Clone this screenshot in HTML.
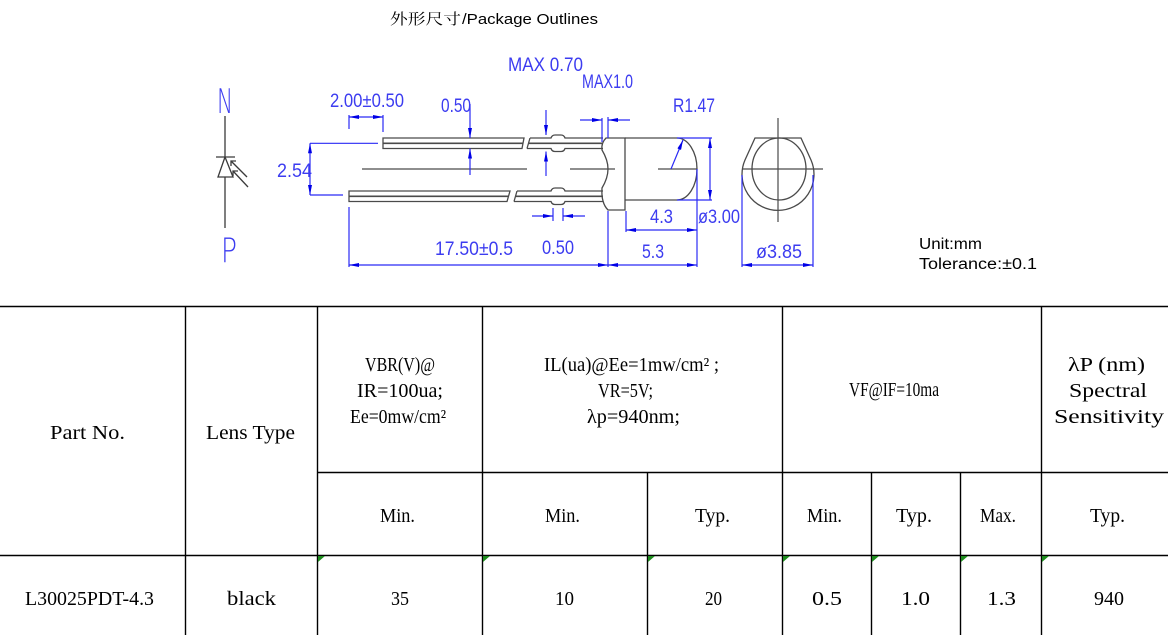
<!DOCTYPE html>
<html>
<head>
<meta charset="utf-8">
<style>
html,body{margin:0;padding:0;background:#fff;}
body{width:1168px;height:635px;overflow:hidden;}
svg{display:block;}
.cad{font-family:"Liberation Sans",sans-serif;fill:#3c3cf0;}
.np{font-family:"DejaVu Sans","Liberation Sans",sans-serif;font-weight:200;fill:#3c3cf0;}
.tb{font-family:"Liberation Serif","Noto Serif CJK SC",serif;fill:#000;font-size:20px;}
.dim{stroke:#2a2af5;stroke-width:1.2;fill:none;}
.part{stroke:#4a4a4a;stroke-width:1.3;fill:none;}
.cl{stroke:#4a4a4a;stroke-width:1.2;fill:none;}
.grid{stroke:#000;stroke-width:1.4;}
</style>
</head>
<body>
<svg width="1168" height="635" viewBox="0 0 1168 635" xmlns="http://www.w3.org/2000/svg">
<defs>
<marker id="ah" viewBox="0 0 10 4" refX="10" refY="2" markerWidth="10" markerHeight="4" markerUnits="userSpaceOnUse" orient="auto-start-reverse">
<path d="M0,0 L10,2 L0,4 z" fill="#0000e6"/>
</marker>
</defs>

<!-- Title -->
<text x="390" y="24" font-family="'Noto Serif CJK SC','Noto Sans CJK SC',serif" font-size="15" fill="#000" textLength="71" lengthAdjust="spacingAndGlyphs">外形尺寸</text>
<text x="462" y="24" font-family="'Liberation Sans',sans-serif" font-size="15" fill="#000" textLength="136" lengthAdjust="spacingAndGlyphs">/Package Outlines</text>

<!-- Diode symbol -->
<text class="np" x="217" y="113" font-size="34" textLength="16" lengthAdjust="spacingAndGlyphs">N</text>
<text class="np" x="221" y="262" font-size="34" textLength="16" lengthAdjust="spacingAndGlyphs">P</text>
<g stroke="#3a3a3a" stroke-width="1.3" fill="none">
<line x1="225" y1="116" x2="225" y2="157"/>
<line x1="225" y1="177" x2="225" y2="228"/>
<line x1="216" y1="157" x2="235" y2="157"/>
<polygon points="225,157 218,177 233,177"/>
<line x1="247" y1="177" x2="231" y2="161"/>
<polyline points="231,166 231,161 236,161"/>
<line x1="248" y1="187" x2="233" y2="171"/>
<polyline points="233,176 233,171 238,171"/>
</g>

<!-- Centerlines -->
<g class="cl">
<line x1="362" y1="169" x2="527" y2="169"/>
<line x1="570" y1="169" x2="615" y2="169"/>
<line x1="658" y1="169" x2="697" y2="169"/>
<line x1="742" y1="169" x2="823" y2="169"/>
<line x1="778" y1="118" x2="778" y2="222"/>
</g>

<!-- Leads -->
<g class="part">
<path d="M383,138 L524,138 L522,148.5 L383,148.5 Z"/>
<line x1="383" y1="143.3" x2="523" y2="143.3" stroke-width="1.6"/>
<path d="M530,138 L551,138 Q552,135 555,135 L561,135 Q564,135 565,138 L603,138"/>
<path d="M527,148.5 L551,148.5 Q552,151.5 555,151.5 L561,151.5 Q564,151.5 565,148.5 L603,148.5"/>
<line x1="530" y1="138" x2="527" y2="148.5"/>
<line x1="528.5" y1="143.3" x2="603" y2="143.3" stroke-width="1.6"/>
<path d="M349,191 L510,191 L507,201.5 L349,201.5 Z"/>
<line x1="349" y1="196.3" x2="508.5" y2="196.3" stroke-width="1.6"/>
<path d="M517,191 L551,191 Q552,188 555,188 L561,188 Q564,188 565,191 L603,191"/>
<path d="M514,201.5 L551,201.5 Q552,204.5 555,204.5 L561,204.5 Q564,204.5 565,201.5 L603,201.5"/>
<line x1="517" y1="191" x2="514" y2="201.5"/>
<line x1="515.5" y1="196.3" x2="603" y2="196.3" stroke-width="1.6"/>
<path d="M625,138 L606,138 Q601,143 602,150 Q608,160 608,169 Q608,178 602,188 Q601,203 608,210 L625,210 Z"/>
<line x1="625" y1="138" x2="677" y2="138"/>
<line x1="625" y1="200" x2="677" y2="200"/>
<path d="M677,138 A20 31 0 0 1 677,200"/>
<path d="M755,138 L801,138 L811,160 A36 36 0 1 1 745,160 Z"/>
<ellipse cx="779" cy="169" rx="27" ry="31"/>
</g>

<!-- Dimension lines -->
<g class="dim">
<line x1="349" y1="115" x2="349" y2="129"/>
<line x1="349" y1="207" x2="349" y2="267"/>
<line x1="383" y1="115" x2="383" y2="132"/>
<line x1="349" y1="117" x2="383" y2="117" marker-start="url(#ah)" marker-end="url(#ah)"/>
<line x1="310" y1="143.3" x2="378" y2="143.3"/>
<line x1="310" y1="195" x2="343" y2="195"/>
<line x1="310" y1="143.3" x2="310" y2="195" marker-start="url(#ah)" marker-end="url(#ah)"/>
<line x1="470" y1="104" x2="470" y2="138" marker-end="url(#ah)"/>
<line x1="470" y1="175" x2="470" y2="148.5" marker-end="url(#ah)"/>
<line x1="546" y1="110" x2="546" y2="135" marker-end="url(#ah)"/>
<line x1="546" y1="176" x2="546" y2="151.5" marker-end="url(#ah)"/>
<line x1="602" y1="118" x2="602" y2="142"/>
<line x1="608" y1="117" x2="608" y2="138"/>
<line x1="580" y1="120" x2="602" y2="120" marker-end="url(#ah)"/>
<line x1="630" y1="120" x2="608" y2="120" marker-end="url(#ah)"/>
<line x1="553" y1="208" x2="553" y2="221"/>
<line x1="563" y1="208" x2="563" y2="221"/>
<line x1="532" y1="216" x2="553" y2="216" marker-end="url(#ah)"/>
<line x1="585" y1="216" x2="563" y2="216" marker-end="url(#ah)"/>
<line x1="608" y1="211" x2="608" y2="267"/>
<line x1="349" y1="265" x2="608" y2="265" marker-start="url(#ah)" marker-end="url(#ah)"/>
<line x1="697" y1="169" x2="697" y2="267"/>
<line x1="608" y1="265" x2="697" y2="265" marker-start="url(#ah)" marker-end="url(#ah)"/>
<line x1="626" y1="211" x2="626" y2="232"/>
<line x1="626" y1="230" x2="697" y2="230" marker-start="url(#ah)" marker-end="url(#ah)"/>
<line x1="677" y1="138" x2="712" y2="138"/>
<line x1="677" y1="200" x2="712" y2="200"/>
<line x1="710" y1="138" x2="710" y2="200" marker-start="url(#ah)" marker-end="url(#ah)"/>
<line x1="671" y1="169" x2="683" y2="140" marker-end="url(#ah)"/>
<line x1="742" y1="175" x2="742" y2="267"/>
<line x1="813" y1="175" x2="813" y2="267"/>
<line x1="742" y1="265" x2="813" y2="265" marker-start="url(#ah)" marker-end="url(#ah)"/>
</g>

<!-- CAD texts -->
<g class="cad" font-size="19">
<text x="508" y="71" textLength="75" lengthAdjust="spacingAndGlyphs">MAX 0.70</text>
<text x="582" y="88" textLength="51" lengthAdjust="spacingAndGlyphs">MAX1.0</text>
<text x="330" y="107" textLength="74" lengthAdjust="spacingAndGlyphs">2.00±0.50</text>
<text x="441" y="112" textLength="30" lengthAdjust="spacingAndGlyphs">0.50</text>
<text x="277" y="177" textLength="35" lengthAdjust="spacingAndGlyphs">2.54</text>
<text x="673" y="112" textLength="42" lengthAdjust="spacingAndGlyphs">R1.47</text>
<text x="698" y="223" textLength="42" lengthAdjust="spacingAndGlyphs">ø3.00</text>
<text x="650" y="223" textLength="23" lengthAdjust="spacingAndGlyphs">4.3</text>
<text x="435" y="255" textLength="78" lengthAdjust="spacingAndGlyphs">17.50±0.5</text>
<text x="542" y="254" textLength="32" lengthAdjust="spacingAndGlyphs">0.50</text>
<text x="642" y="258" textLength="22" lengthAdjust="spacingAndGlyphs">5.3</text>
<text x="756" y="258" textLength="46" lengthAdjust="spacingAndGlyphs">ø3.85</text>
</g>

<!-- Unit / tolerance -->
<text x="919" y="249" font-family="'Liberation Sans',sans-serif" font-size="15.5" fill="#000" textLength="63" lengthAdjust="spacingAndGlyphs">Unit:mm</text>
<text x="919" y="269" font-family="'Liberation Sans','Noto Sans CJK SC',sans-serif" font-size="15.5" fill="#000" textLength="118" lengthAdjust="spacingAndGlyphs">Tolerance:±0.1</text>

<!-- Table grid -->
<g class="grid">
<line x1="0" y1="306.5" x2="1168" y2="306.5"/>
<line x1="318" y1="472.5" x2="1168" y2="472.5"/>
<line x1="0" y1="555.5" x2="1168" y2="555.5"/>
<line x1="185.5" y1="306" x2="185.5" y2="635"/>
<line x1="317.5" y1="306" x2="317.5" y2="635"/>
<line x1="482.5" y1="306" x2="482.5" y2="635"/>
<line x1="647.5" y1="472" x2="647.5" y2="635"/>
<line x1="782.5" y1="306" x2="782.5" y2="635"/>
<line x1="871.5" y1="472" x2="871.5" y2="635"/>
<line x1="960.5" y1="472" x2="960.5" y2="635"/>
<line x1="1041.5" y1="306" x2="1041.5" y2="635"/>
</g>
<g fill="#1e8c1e">
<polygon points="318,556 325,556 318,562"/>
<polygon points="483,556 490,556 483,562"/>
<polygon points="648,556 655,556 648,562"/>
<polygon points="783,556 790,556 783,562"/>
<polygon points="872,556 879,556 872,562"/>
<polygon points="961,556 968,556 961,562"/>
<polygon points="1042,556 1049,556 1042,562"/>
</g>

<!-- Table text -->
<g class="tb">
<text x="50" y="439" textLength="75" lengthAdjust="spacingAndGlyphs">Part No.</text>
<text x="206" y="439" textLength="89" lengthAdjust="spacingAndGlyphs">Lens Type</text>

<text x="365" y="371" textLength="70" lengthAdjust="spacingAndGlyphs">VBR(V)@</text>
<text x="357" y="397" textLength="86" lengthAdjust="spacingAndGlyphs">IR=100ua;</text>
<text x="350" y="423" textLength="96" lengthAdjust="spacingAndGlyphs">Ee=0mw/cm²</text>

<text x="544" y="371" textLength="175" lengthAdjust="spacingAndGlyphs">IL(ua)@Ee=1mw/cm² ;</text>
<text x="598" y="397" textLength="55" lengthAdjust="spacingAndGlyphs">VR=5V;</text>
<text x="587" y="423" textLength="93" lengthAdjust="spacingAndGlyphs">λp=940nm;</text>

<text x="849" y="396" textLength="90" lengthAdjust="spacingAndGlyphs">VF@IF=10ma</text>

<text x="1068" y="371" textLength="77" lengthAdjust="spacingAndGlyphs">λP (nm)</text>
<text x="1069" y="397" textLength="78" lengthAdjust="spacingAndGlyphs">Spectral</text>
<text x="1054" y="423" textLength="110" lengthAdjust="spacingAndGlyphs">Sensitivity</text>

<text x="380" y="522" textLength="35" lengthAdjust="spacingAndGlyphs">Min.</text>
<text x="545" y="522" textLength="35" lengthAdjust="spacingAndGlyphs">Min.</text>
<text x="695" y="522" textLength="35" lengthAdjust="spacingAndGlyphs">Typ.</text>
<text x="807" y="522" textLength="35" lengthAdjust="spacingAndGlyphs">Min.</text>
<text x="896" y="522" textLength="36" lengthAdjust="spacingAndGlyphs">Typ.</text>
<text x="980" y="522" textLength="36" lengthAdjust="spacingAndGlyphs">Max.</text>
<text x="1090" y="522" textLength="35" lengthAdjust="spacingAndGlyphs">Typ.</text>

<text x="25" y="605" textLength="129" lengthAdjust="spacingAndGlyphs">L30025PDT-4.3</text>
<text x="227" y="605" textLength="49" lengthAdjust="spacingAndGlyphs">black</text>
<text x="391" y="605" textLength="18" lengthAdjust="spacingAndGlyphs">35</text>
<text x="555" y="605" textLength="19" lengthAdjust="spacingAndGlyphs">10</text>
<text x="705" y="605" textLength="17" lengthAdjust="spacingAndGlyphs">20</text>
<text x="812" y="605" textLength="30" lengthAdjust="spacingAndGlyphs">0.5</text>
<text x="901" y="605" textLength="29" lengthAdjust="spacingAndGlyphs">1.0</text>
<text x="987" y="605" textLength="29" lengthAdjust="spacingAndGlyphs">1.3</text>
<text x="1094" y="605" textLength="30" lengthAdjust="spacingAndGlyphs">940</text>
</g>
</svg>
</body>
</html>
